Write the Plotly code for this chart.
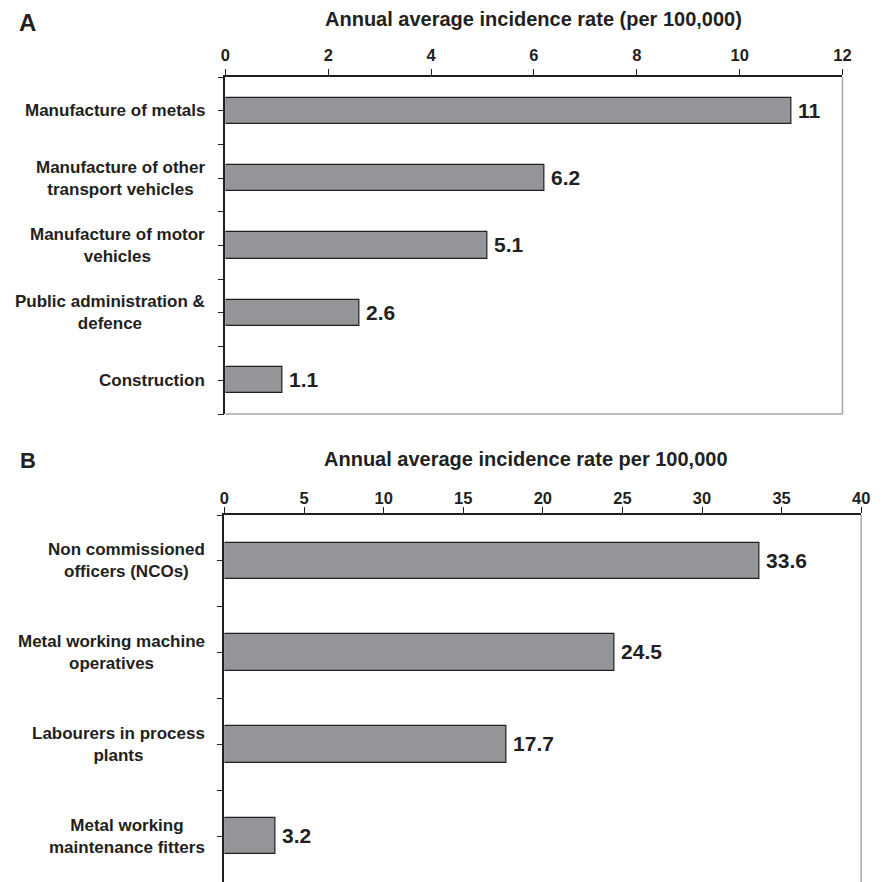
import plotly.graph_objects as go

# ---------------- data ----------------
a_categories = ["Manufacture of metals",
                "Manufacture of other<br>transport vehicles",
                "Manufacture of motor<br>vehicles",
                "Public administration &<br>defence",
                "Construction"]
a_values = [11, 6.2, 5.1, 2.6, 1.1]
a_value_labels = ["11", "6.2", "5.1", "2.6", "1.1"]
a_ticks = [0, 2, 4, 6, 8, 10, 12]
a_title = "Annual average incidence rate (per 100,000)"

b_categories = ["Non commissioned<br>officers (NCOs)",
                "Metal working machine<br>operatives",
                "Labourers in process<br>plants",
                "Metal working<br>maintenance fitters"]
b_values = [33.6, 24.5, 17.7, 3.2]
b_value_labels = ["33.6", "24.5", "17.7", "3.2"]
b_ticks = [0, 5, 10, 15, 20, 25, 30, 35, 40]
b_title = "Annual average incidence rate per 100,000"

# ---------------- style ----------------
W = H = 882
FONT = "Liberation Sans, Arial, sans-serif"
INK = "#231f20"
BAR = "#939598"
FRAME = "#a7a9ac"

def px_x(p):
    return p / W

def px_y(p):
    return 1 - p / H

fig = go.Figure()

panels = [
    dict(cats=a_categories, vals=a_values, labs=a_value_labels, ticks=a_ticks,
         title=a_title, xa="x", ya="y", xdom=[px_x(224), px_x(851)],
         ydom=[px_y(414), px_y(77)], width=0.39, title_x=px_x(537),
         title_y=px_y(19), letter="A", letter_y=px_y(23), letter_size=24,
         label_standoff=2, bottom=True),
    dict(cats=b_categories, vals=b_values, labs=b_value_labels, ticks=b_ticks,
         title=b_title, xa="x2", ya="y2", xdom=[px_x(223), px_x(870)],
         ydom=[0, px_y(515)], width=0.40, title_x=px_x(529),
         title_y=px_y(459), letter="B", letter_y=px_y(461), letter_size=22,
         label_standoff=-3, bottom=False),
]

annotations = []
shapes = []
for i, p in enumerate(panels):
    n = len(p["cats"])
    idx = list(range(n))
    fig.add_trace(go.Bar(
        x=p["vals"], y=idx, orientation="h", width=p["width"],
        marker=dict(color=BAR, line=dict(color=INK, width=1.2)),
        text=p["labs"], texttemplate="\u2009%{text}",
        textposition="outside", constraintext="none",
        cliponaxis=False,
        textfont=dict(family=FONT, size=21, weight="bold", color=INK),
        xaxis=p["xa"], yaxis=p["ya"], showlegend=False, hoverinfo="skip",
    ))
    xkey = "xaxis" if i == 0 else "xaxis2"
    ykey = "yaxis" if i == 0 else "yaxis2"
    fig.layout[xkey] = dict(
        domain=p["xdom"], anchor=p["ya"], side="top",
        range=[p["ticks"][0], p["ticks"][-1]],
        tickmode="array", tickvals=p["ticks"], ticktext=[str(t) for t in p["ticks"]],
        ticks="outside", ticklen=6, tickwidth=1.2, tickcolor=INK,
        showline=True, linecolor=INK, linewidth=1.5,
        showgrid=False, zeroline=False,
        ticklabelstandoff=p["label_standoff"],
        tickfont=dict(family=FONT, size=16.5, weight="bold", color=INK),
        fixedrange=True,
    )
    tv = [k * 0.5 - 0.5 for k in range(2 * n + 1)]
    fig.layout[ykey] = dict(
        domain=p["ydom"], anchor=p["xa"],
        range=[n - 0.5, -0.5],
        tickmode="array", tickvals=tv, ticktext=["" for _ in tv],
        ticks="outside", ticklen=6, tickwidth=1.2, tickcolor=INK,
        showline=True, linecolor=INK, linewidth=1.5,
        showgrid=False, zeroline=False, fixedrange=True,
    )
    # category labels (centered multi-line)
    for j, c in enumerate(p["cats"]):
        annotations.append(dict(
            text=c, x=px_x(205), xref="paper", y=j, yref=p["ya"],
            xanchor="right", yanchor="middle", align="center", showarrow=False,
            font=dict(family=FONT, size=17, weight="bold", color=INK),
        ))
    # axis title
    annotations.append(dict(
        text=p["title"], x=p["title_x"], y=p["title_y"], xref="paper", yref="paper",
        xanchor="center", yanchor="middle", showarrow=False,
        font=dict(family=FONT, size=20, weight="bold", color=INK),
    ))
    # panel letter
    annotations.append(dict(
        text=p["letter"], x=px_x(23), y=p["letter_y"], xref="paper", yref="paper",
        xanchor="center", yanchor="middle", showarrow=False,
        font=dict(family=FONT, size=p["letter_size"], weight="bold", color=INK),
    ))
    # gray frame (right and bottom)
    shapes.append(dict(type="line", xref=p["xa"] + " domain", yref=p["ya"] + " domain",
                       x0=1, x1=1, y0=0, y1=1, line=dict(color=FRAME, width=1.5)))
    if p["bottom"]:
        shapes.append(dict(type="line", xref=p["xa"] + " domain", yref=p["ya"] + " domain",
                           x0=0, x1=1, y0=0, y1=0, line=dict(color=FRAME, width=1.5)))

fig.update_layout(
    width=W, height=H, margin=dict(l=0, r=0, t=0, b=0),
    paper_bgcolor="white", plot_bgcolor="white",
    annotations=annotations, shapes=shapes, bargap=0,
    font=dict(family=FONT, color=INK),
)

fig.write_html(
    "out.html",
    config={"displayModeBar": False},
    post_script="document.body.style.margin='0';document.body.style.padding='0';"
                "document.body.style.overflow='hidden';",
)
